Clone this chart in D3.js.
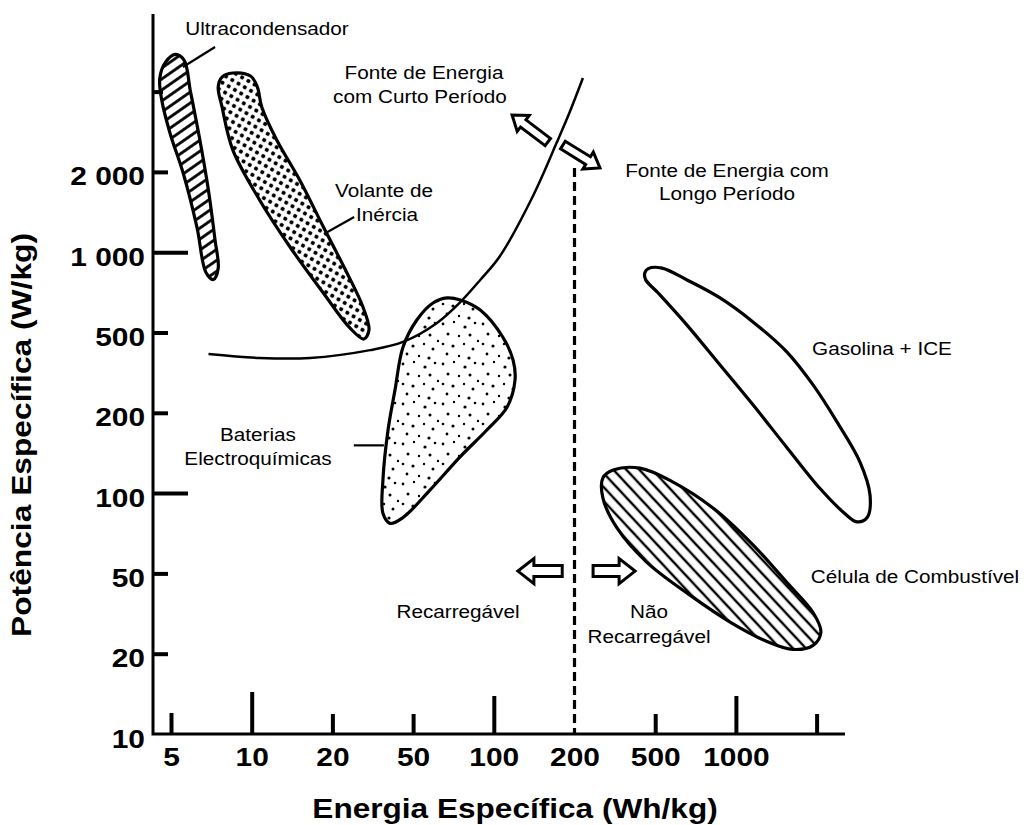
<!DOCTYPE html>
<html><head><meta charset="utf-8">
<script src="https://cdn.jsdelivr.net/npm/d3@7"></script>
<style>
html,body{margin:0;padding:0;background:#fff;}
svg{display:block;background:#fff;}
text{font-family:"Liberation Sans",Arial,Helvetica,sans-serif;fill:#000;}
</style>
</head><body>
<svg id="chart" width="1035" height="825"></svg>
<script>
// ---------------- DATA ----------------
const energyTicks  = [5, 10, 20, 50, 100, 200, 500, 1000, 2000];
const energyLabels = ["5", "10", "20", "50", "100", "200", "500", "1000", ""];
const powerTicks   = [10, 20, 50, 100, 200, 500, 1000, 2000, 5000];
const powerLabels  = ["10", "20", "50", "100", "200", "500", "1 000", "2 000", ""];

const xTitle = "Energia Específica (Wh/kg)";
const yTitle = "Potência Específica (W/kg)";

// region outlines: [energy Wh/kg, power W/kg]
const ultracapacitor = [[5.2,6900],[5.6,6550],[5.9,5050],[6.4,2900],[6.9,1700],[7.3,1110],[7.5,870],[7.2,790],[6.75,840],[6.25,1240],[5.55,1980],[4.95,3100],[4.5,4550],[4.4,5600],[4.7,6450]];
const flywheel = [[8.5,5870],[9.9,5720],[10.5,5200],[10.9,4200],[12.4,2880],[15.1,1865],[18.5,1245],[23.6,836],[28.3,623],[30.3,511],[28.6,464],[24.4,520],[18.5,703],[13.9,1046],[10.7,1570],[8.5,2570],[7.75,4200],[7.5,5200],[7.75,5670]];
const batteries = [[67,674],[75,662],[89,607],[108,475],[118,365],[120,291],[112,213],[94,172],[75,137],[58,103],[44.6,81],[38.5,77],[35.5,84],[35.5,112],[37.6,172],[40.7,259],[44.6,424],[51.7,558],[59.3,645]];
const gasolineICE = [[462,868],[530,872],[657,787],[873,674],[1158,548],[1551,400],[1940,275],[2520,185],[3270,131],[3670,98],[3550,81],[3160,78],[2700,85],[2080,104],[1551,148],[1158,219],[873,345],[657,533],[515,700],[448,790],[445,840]];
const fuelCell = [[276,114],[310,122],[421,124],[583,110],[821,88],[1158,64],[1551,45],[1940,32],[2100,25.6],[1940,22],[1633,21],[1306,23],[951,28.7],[674,39],[455,55],[324,74],[276,96]];

// boundary curve short / long duration sources
const boundaryCurve = [[6.9,391],[10.7,374],[16.5,374],[30.7,409],[44.6,449],[61.4,543],[75,650],[89,787],[105.5,968],[140,1625],[172,2810],[192,3960],[220,5620]];

// rechargeable / non-rechargeable divider
const dividerEnergy = 200;
const dividerPower = [10, 2090];

// leader lines [[e,p],[e,p]]
const leaders = [
  [[5.54,6180],[7.3,7345]],
  [[18.6,1170],[25.6,1355]],
  [[25.5,151],[35.9,151]]
];

// block arrows [from, to]
const slantArrows = [
  [[159,2812],[117,3830]],
  [[181,2718],[267,2092]]
];
const flatArrows = [
  [[180,51],[123,51]],
  [[247,51],[398,51]]
];

// annotation labels
const annotations = [
  {t:"Ultracondensador", x:267, y:35},
  {t:"Fonte de Energia", x:424, y:79},
  {t:"com Curto Período", x:420, y:103},
  {t:"Fonte de Energia com", x:727, y:177},
  {t:"Longo Período", x:727, y:200},
  {t:"Volante de", x:384, y:197},
  {t:"Inércia", x:387, y:221},
  {t:"Baterias", x:258, y:441},
  {t:"Electroquímicas", x:258, y:465},
  {t:"Gasolina + ICE", x:882, y:355},
  {t:"Célula de Combustível", x:915, y:583},
  {t:"Recarregável", x:458, y:618},
  {t:"Não", x:649, y:618},
  {t:"Recarregável", x:649, y:643}
];

// ---------------- LAYOUT ----------------
const X0 = 171, XS = 80.7, Y0 = 734, YS = 80.3;
const AX_X = 153, AX_TOP = 14, AX_RIGHT = 845;
const xDomain = [2,5,10,20,50,100,200,500,1000,2000,5000];
const yDomain = [5,10,20,50,100,200,500,1000,2000,5000,10000];
const x = d3.scaleLog().domain(xDomain).range(xDomain.map((d,i)=>X0 + XS*(i-1)));
const y = d3.scaleLog().domain(yDomain).range(yDomain.map((d,i)=>Y0 - YS*(i-1)));

const xTickLen = new Map([[5,21],[10,42],[20,20],[50,20],[100,38],[200,0],[500,20],[1000,38],[2000,20]]);
const yTickLen = new Map([[10,0],[20,15],[50,15],[100,35],[200,15],[500,15],[1000,35],[2000,15],[5000,10]]);
const FONT = '"Liberation Sans",Arial,Helvetica,sans-serif';

const svg = d3.select("#chart");

// patterns
const defs = svg.append("defs");
const pU = defs.append("pattern").attr("id","hatchU").attr("patternUnits","userSpaceOnUse")
  .attr("width",10).attr("height",9).attr("patternTransform","rotate(-35)");
pU.append("line").attr("x1",-1).attr("x2",11).attr("y1",4.5).attr("y2",4.5).attr("stroke","#000").attr("stroke-width",2.8);

const pF = defs.append("pattern").attr("id","hatchF").attr("patternUnits","userSpaceOnUse")
  .attr("width",10).attr("height",9.5).attr("patternTransform","rotate(47)");
pF.append("line").attr("x1",-1).attr("x2",11).attr("y1",4.75).attr("y2",4.75).attr("stroke","#000").attr("stroke-width",2.4);

const pD = defs.append("pattern").attr("id","dotsF").attr("patternUnits","userSpaceOnUse")
  .attr("width",7.2).attr("height",7.2).attr("patternTransform","rotate(30)");
pD.append("circle").attr("cx",3.6).attr("cy",3.6).attr("r",2.1).attr("fill","#000");

const pB = defs.append("pattern").attr("id","dotsB").attr("patternUnits","userSpaceOnUse")
  .attr("width",40).attr("height",40);
[[3,4,1.4],[14,2,1.2],[25,7,1.6],[35,3,1.3],[8,14,1.5],[19,16,1.2],[30,15,1.5],[38,21,1.2],
 [3,24,1.3],[13,26,1.6],[24,24,1.2],[33,29,1.5],[7,34,1.4],[19,36,1.2],[29,38,1.6]].forEach(c=>{
  pB.append("circle").attr("cx",c[0]).attr("cy",c[1]).attr("r",c[2]).attr("fill","#000");
});

// axes
const gx = svg.append("g").attr("transform",`translate(0,${Y0})`)
  .call(d3.axisBottom(x).tickValues(energyTicks).tickFormat(d=>energyLabels[energyTicks.indexOf(d)]).tickSizeOuter(0));
gx.select(".domain").remove();
gx.attr("font-family",FONT).attr("font-size",26).attr("font-weight","bold");
gx.selectAll(".tick line").attr("y2",d=>-xTickLen.get(d)).attr("stroke","#000").attr("stroke-width",4);
gx.selectAll(".tick text").attr("y",0).attr("dy",0).attr("fill","#000")
  .attr("transform","translate(0,32) scale(1.15,1)");

const gy = svg.append("g").attr("transform",`translate(${AX_X},0)`)
  .call(d3.axisLeft(y).tickValues(powerTicks).tickFormat(d=>powerLabels[powerTicks.indexOf(d)]).tickSizeOuter(0));
gy.select(".domain").remove();
gy.attr("font-family",FONT).attr("font-size",26).attr("font-weight","bold");
gy.selectAll(".tick line").attr("x2",d=>yTickLen.get(d)).attr("stroke","#000").attr("stroke-width",4);
gy.selectAll(".tick text").attr("x",0).attr("dy",0).attr("fill","#000")
  .attr("transform","translate(-8,13) scale(1.15,1)");

// axis lines
svg.append("path").attr("d",`M${AX_X},${AX_TOP}V${Y0}H${AX_RIGHT}`)
  .attr("fill","none").attr("stroke","#000").attr("stroke-width",3);

// titles
svg.append("g").attr("transform",`translate(515,818) scale(1.17,1)`)
  .append("text").attr("text-anchor","middle").attr("font-size",27).attr("font-weight","bold").text(xTitle);
svg.append("g").attr("transform",`translate(31,435) rotate(-90) scale(1.176,1)`)
  .append("text").attr("text-anchor","middle").attr("font-size",27).attr("font-weight","bold").text(yTitle);

// regions
const closed = d3.line().x(d=>x(d[0])).y(d=>y(d[1])).curve(d3.curveCatmullRomClosed.alpha(0.5));
const regions = [
  {d:ultracapacitor, fill:"url(#hatchU)"},
  {d:flywheel, fill:"url(#dotsF)"},
  {d:batteries, fill:"url(#dotsB)"},
  {d:gasolineICE, fill:"none"},
  {d:fuelCell, fill:"url(#hatchF)"}
];
svg.append("g").selectAll("path").data(regions).join("path")
  .attr("d",r=>closed(r.d)).attr("fill",r=>r.fill)
  .attr("stroke","#000").attr("stroke-width",3.2).attr("stroke-linejoin","round");

// boundary curve
svg.append("path").datum(boundaryCurve)
  .attr("d",d3.line().x(d=>x(d[0])).y(d=>y(d[1])).curve(d3.curveCatmullRom.alpha(0.5)))
  .attr("fill","none").attr("stroke","#000").attr("stroke-width",2.5);

// divider
svg.append("line").attr("x1",x(dividerEnergy)).attr("x2",x(dividerEnergy))
  .attr("y1",y(dividerPower[1])).attr("y2",y(dividerPower[0]))
  .attr("stroke","#000").attr("stroke-width",3.2).attr("stroke-dasharray","9,5");

// leaders
svg.append("g").selectAll("line").data(leaders).join("line")
  .attr("x1",d=>x(d[0][0])).attr("y1",d=>y(d[0][1]))
  .attr("x2",d=>x(d[1][0])).attr("y2",d=>y(d[1][1]))
  .attr("stroke","#000").attr("stroke-width",2.2);

// block arrows
function blockArrow(a, b, sh, hh, hl) {
  const x1=x(a[0]), y1=y(a[1]), x2=x(b[0]), y2=y(b[1]);
  const L = Math.hypot(x2-x1, y2-y1);
  const ang = Math.atan2(y2-y1, x2-x1)*180/Math.PI;
  const pts = [[0,-sh],[L-hl,-sh],[L-hl,-hh],[L,0],[L-hl,hh],[L-hl,sh],[0,sh]];
  svg.append("path").attr("transform",`translate(${x1},${y1}) rotate(${ang})`)
    .attr("d","M"+pts.map(p=>p.join(",")).join("L")+"Z")
    .attr("fill","#fff").attr("stroke","#000").attr("stroke-width",3).attr("stroke-linejoin","miter");
}
slantArrows.forEach(a=>blockArrow(a[0],a[1],4.5,10,14));
flatArrows.forEach(a=>blockArrow(a[0],a[1],5.5,12.5,16));

// annotations
svg.append("g").selectAll("g").data(annotations).join("g")
  .attr("transform",d=>`translate(${d.x},${d.y}) scale(1.12,1)`)
  .append("text").attr("text-anchor","middle").attr("font-size",18.5).text(d=>d.t);
</script>
</body></html>
